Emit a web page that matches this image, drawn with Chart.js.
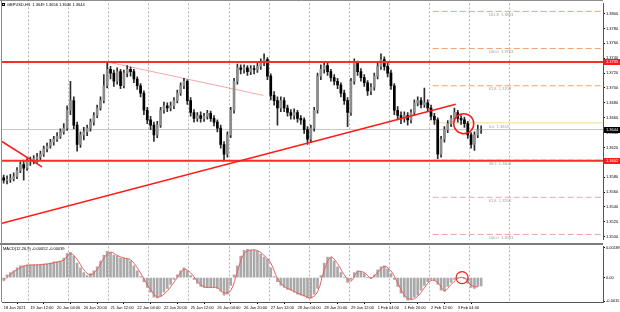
<!DOCTYPE html>
<html>
<head>
<meta charset="utf-8">
<script src="https://cdn.jsdelivr.net/npm/chart.js@4.4.0/dist/chart.umd.min.js"></script>
<style>
  body { margin: 0; background: #fff; }
  #wrap { position: relative; width: 620px; height: 312px; }
  #priceBox { position: absolute; left: 0; top: 0; width: 620px; height: 243px; }
  #macdBox { position: absolute; left: 0; top: 243px; width: 620px; height: 69px; }
</style>
</head>
<body>
<div id="wrap">
  <div id="priceBox"><canvas id="priceChart"></canvas></div>
  <div id="macdBox"><canvas id="macdChart"></canvas></div>
</div>
<script>
// GBPUSD, 2-hour candles (18 Jan 20:00 .. 3 Feb)
const opens = [1.3579,1.3576,1.3577,1.3578,1.3581,1.3589,1.3597,1.3592,1.3601,1.3602,
  1.3605,1.3607,1.3611,1.3618,1.3622,1.3627,1.3631,1.3635,1.3641,1.3646,
  1.3670,1.3683,1.3650,1.3624,1.3637,1.3641,1.3646,1.3654,1.3663,1.3673,
  1.3683,1.3703,1.3725,1.3720,1.3709,1.3722,1.3703,1.3720,1.3725,1.3722,
  1.3712,1.3703,1.3693,1.3670,1.3657,1.3650,1.3637,1.3650,1.3670,1.3676,
  1.3673,1.3676,1.3683,1.3693,1.3703,1.3709,1.3683,1.3667,1.3659,1.3663,
  1.3659,1.3662,1.3666,1.3659,1.3654,1.3646,1.3624,1.3611,1.3637,1.3670,
  1.3709,1.3727,1.3725,1.3727,1.3722,1.3726,1.3725,1.3729,1.3735,1.3738,
  1.3716,1.3690,1.3683,1.3673,1.3683,1.3673,1.3667,1.3663,1.3667,1.3659,
  1.3657,1.3644,1.3631,1.3646,1.3670,1.3716,1.3725,1.3730,1.3722,1.3714,
  1.3709,1.3704,1.3693,1.3683,1.3667,1.3709,1.3733,1.3722,1.3714,1.3707,
  1.3696,1.3701,1.3716,1.3729,1.3738,1.3729,1.3720,1.3703,1.3670,1.3663,
  1.3659,1.3663,1.3657,1.3667,1.3680,1.3683,1.3678,1.3680,1.3673,1.3662,
  1.3657,1.3611,1.3631,1.3644,1.3652,1.3659,1.3667,1.3659,1.3657,1.3652,
  1.3637,1.3624,1.3637,1.3644];
const highs = [1.3583,1.3582,1.3584,1.3586,1.3593,1.3601,1.3603,1.3605,1.3607,1.3609,
  1.3612,1.3615,1.3622,1.3626,1.3631,1.3635,1.3640,1.3645,1.3652,1.3676,
  1.3709,1.3688,1.3654,1.3641,1.3647,1.3650,1.3658,1.3667,1.3677,1.3688,
  1.3718,1.3735,1.3729,1.3724,1.3727,1.3725,1.3724,1.3730,1.3728,1.3725,
  1.3715,1.3706,1.3696,1.3674,1.3662,1.3654,1.3655,1.3674,1.3681,1.3680,
  1.3681,1.3687,1.3697,1.3707,1.3713,1.3711,1.3687,1.3671,1.3667,1.3668,
  1.3666,1.3670,1.3669,1.3663,1.3657,1.3650,1.3628,1.3641,1.3674,1.3713,
  1.3732,1.3731,1.3731,1.3730,1.3730,1.3730,1.3733,1.3739,1.3746,1.3741,
  1.3719,1.3695,1.3688,1.3688,1.3687,1.3677,1.3671,1.3672,1.3670,1.3663,
  1.3660,1.3648,1.3650,1.3674,1.3720,1.3731,1.3735,1.3733,1.3725,1.3718,
  1.3713,1.3707,1.3697,1.3687,1.3713,1.3739,1.3736,1.3726,1.3718,1.3710,
  1.3706,1.3720,1.3733,1.3746,1.3742,1.3733,1.3724,1.3706,1.3675,1.3668,
  1.3668,1.3667,1.3671,1.3684,1.3688,1.3687,1.3700,1.3684,1.3677,1.3666,
  1.3660,1.3635,1.3648,1.3656,1.3663,1.3673,1.3670,1.3663,1.3661,1.3655,
  1.3640,1.3641,1.3650,1.3649];
const lows = [1.3572,1.3571,1.3573,1.3575,1.3578,1.3586,1.3576,1.3589,1.3596,1.3598,
  1.3600,1.3603,1.3608,1.3614,1.3619,1.3623,1.3628,1.3632,1.3638,1.3643,
  1.3664,1.3645,1.3615,1.3620,1.3630,1.3636,1.3642,1.3650,1.3660,1.3670,
  1.3680,1.3700,1.3712,1.3702,1.3705,1.3699,1.3700,1.3715,1.3716,1.3707,
  1.3698,1.3688,1.3664,1.3652,1.3644,1.3628,1.3633,1.3647,1.3666,1.3668,
  1.3669,1.3672,1.3680,1.3690,1.3699,1.3678,1.3662,1.3654,1.3655,1.3654,
  1.3655,1.3658,1.3655,1.3649,1.3641,1.3619,1.3602,1.3607,1.3633,1.3666,
  1.3705,1.3719,1.3720,1.3717,1.3718,1.3719,1.3721,1.3725,1.3730,1.3711,
  1.3684,1.3677,1.3650,1.3668,1.3668,1.3662,1.3658,1.3658,1.3654,1.3651,
  1.3639,1.3624,1.3627,1.3642,1.3666,1.3711,1.3720,1.3717,1.3709,1.3704,
  1.3699,1.3688,1.3678,1.3648,1.3663,1.3705,1.3717,1.3709,1.3702,1.3690,
  1.3691,1.3697,1.3712,1.3725,1.3724,1.3715,1.3698,1.3664,1.3657,1.3652,
  1.3654,1.3650,1.3653,1.3663,1.3676,1.3673,1.3674,1.3668,1.3657,1.3651,
  1.3605,1.3607,1.3627,1.3640,1.3648,1.3655,1.3654,1.3651,1.3647,1.3632,
  1.3619,1.3616,1.3633,1.3639];
const closes = [1.3576,1.3577,1.3578,1.3581,1.3589,1.3597,1.3592,1.3601,1.3602,1.3605,
  1.3607,1.3611,1.3618,1.3622,1.3627,1.3631,1.3635,1.3641,1.3646,1.3670,
  1.3683,1.3650,1.3624,1.3637,1.3641,1.3646,1.3654,1.3663,1.3673,1.3683,
  1.3703,1.3725,1.3720,1.3709,1.3722,1.3703,1.3720,1.3725,1.3722,1.3712,
  1.3703,1.3693,1.3670,1.3657,1.3650,1.3637,1.3650,1.3670,1.3676,1.3673,
  1.3676,1.3683,1.3693,1.3703,1.3709,1.3683,1.3667,1.3659,1.3663,1.3659,
  1.3662,1.3666,1.3659,1.3654,1.3646,1.3624,1.3611,1.3637,1.3670,1.3709,
  1.3727,1.3725,1.3727,1.3722,1.3726,1.3725,1.3729,1.3735,1.3738,1.3716,
  1.3690,1.3683,1.3673,1.3683,1.3673,1.3667,1.3663,1.3667,1.3659,1.3657,
  1.3644,1.3631,1.3646,1.3670,1.3716,1.3725,1.3730,1.3722,1.3714,1.3709,
  1.3704,1.3693,1.3683,1.3667,1.3709,1.3733,1.3722,1.3714,1.3707,1.3696,
  1.3701,1.3716,1.3729,1.3738,1.3729,1.3720,1.3703,1.3670,1.3663,1.3659,
  1.3663,1.3657,1.3667,1.3680,1.3683,1.3678,1.3680,1.3673,1.3662,1.3657,
  1.3611,1.3631,1.3644,1.3652,1.3659,1.3667,1.3659,1.3657,1.3652,1.3637,
  1.3624,1.3637,1.3644,1.3644];

// MACD(12,26,9): main histogram per candle, signal every second candle
const macdMain = [-0.00018,0.00018,0.00031,0.00043,0.00062,0.00074,0.00074,0.00080,0.00080,0.00080,
  0.00080,0.00083,0.00086,0.00086,0.00092,0.00099,0.00099,0.00105,0.00123,0.00154,
  0.00160,0.00136,0.00092,0.00062,0.00031,0.00012,0.00025,0.00043,0.00068,0.00105,
  0.00142,0.00166,0.00160,0.00142,0.00136,0.00123,0.00123,0.00117,0.00105,0.00074,
  0.00043,0.00006,-0.00025,-0.00062,-0.00092,-0.00123,-0.00129,-0.00117,-0.00092,-0.00068,
  -0.00043,-0.00012,0.00018,0.00043,0.00062,0.00043,0.00012,-0.00012,-0.00037,-0.00055,
  -0.00062,-0.00062,-0.00062,-0.00062,-0.00068,-0.00086,-0.00111,-0.00105,-0.00049,0.00018,
  0.00074,0.00136,0.00172,0.00179,0.00172,0.00172,0.00166,0.00148,0.00129,0.00117,
  0.00062,0.00006,-0.00025,-0.00049,-0.00062,-0.00074,-0.00080,-0.00092,-0.00105,-0.00111,
  -0.00117,-0.00129,-0.00129,-0.00105,-0.00068,0.00012,0.00092,0.00129,0.00129,0.00105,
  0.00068,0.00031,0.00000,-0.00031,-0.00012,0.00031,0.00043,0.00037,0.00025,0.00000,
  -0.00006,0.00018,0.00049,0.00068,0.00074,0.00055,0.00025,-0.00012,-0.00055,-0.00099,
  -0.00123,-0.00142,-0.00136,-0.00123,-0.00111,-0.00080,-0.00049,-0.00025,-0.00012,-0.00018,
  -0.00043,-0.00080,-0.00086,-0.00055,-0.00031,-0.00012,0.00000,0.00000,-0.00006,-0.00037,
  -0.00062,-0.00068,-0.00055,-0.00052];
const macdSignal = [-0.00020,0.00020,0.00050,0.00072,0.00079,0.00080,0.00084,0.00089,0.00098,0.00112,
  0.00150,0.00115,0.00050,0.00018,0.00052,0.00122,0.00160,0.00140,0.00124,0.00112,
  0.00062,-0.00008,-0.00075,-0.00122,-0.00105,-0.00058,0.00000,0.00052,0.00030,-0.00022,
  -0.00058,-0.00062,-0.00064,-0.00096,-0.00082,0.00040,0.00150,0.00174,0.00170,0.00140,
  0.00092,-0.00005,-0.00055,-0.00077,-0.00098,-0.00114,-0.00128,-0.00090,0.00045,0.00128,
  0.00088,0.00018,-0.00022,0.00036,0.00032,-0.00002,0.00032,0.00070,0.00042,-0.00032,
  -0.00110,-0.00138,-0.00118,-0.00065,-0.00018,-0.00030,-0.00082,-0.00044,-0.00006,-0.00002,
  -0.00048,-0.00060];
const signalStep = 2;

// time axis: one label every 8 candles (16 hours)
const timeLabels = ['18 Jan 2021','19 Jan 12:00','20 Jan 04:00','20 Jan 20:00','21 Jan 12:00',
  '22 Jan 04:00','22 Jan 20:00','25 Jan 12:00','26 Jan 04:00','26 Jan 20:00','27 Jan 12:00',
  '28 Jan 04:00','28 Jan 20:00','29 Jan 12:00','1 Feb 04:00','1 Feb 20:00','2 Feb 12:00','3 Feb 04:00'];
const labelStep = 8;
const gridStart = 1.5, gridStep = 12, gridCount = 13;

const priceTicks = [1.3500,1.3520,1.3540,1.3560,1.3580,1.3600,1.3620,1.3640,1.3660,1.3680,
  1.3700,1.3720,1.3740,1.3760,1.3780,1.3800];
const macdTicks = [-0.0015, 0, 0.00189];
const macdTickLabels = ['-0.0015', '0.00', '0.00189'];

// drawn levels
const resistanceLevel = 1.3735;
const supportLevel = 1.3602;
const trendUp = [[-0.5, 1.3518], [135.4, 1.3678]];
const trendShort = [[-0.5, 1.3628], [11.5, 1.3594]];
const trendPink = [[31.0, 1.3735], [77.8, 1.3690]];
const fibLevels = [1.3803, 1.3753, 1.3703, 1.3653, 1.3603, 1.3553, 1.3503];
const fibNames = ['161.8', '100.0', '61.8', '0.0', '38.2', '61.8', '100.0'];
const fibColors = ['#f2a36a', '#f2a36a', '#f2a36a', '#efe08a', '#eeaaaa', '#eaa6a6', '#eaa6a6'];
const fibFrom = 128.5, fibTo = 179.5, fibLabelAt = 145.3;
const circleMain = { x: 137.8, y: 1.3652 };
const circleMacd = { x: 137.3, y: 0.0 };

const headerText = 'GBPUSD,H1  1.3649 1.3656 1.3640 1.3644';
const macdHeader = 'MACD(12,26,9) -0.00052 -0.00039';

const slotCount = 180;
const xMin = -0.5, xMax = slotCount - 0.5;
const lastIdx = closes.length - 1;
const slots = Array.from({ length: slotCount }, (_, i) => i);
const fontFamily = '"Liberation Sans", Arial, sans-serif';

Chart.defaults.font.family = fontFamily;
Chart.defaults.font.size = 4;
Chart.defaults.color = '#000';

function segment(points, color, width, dash, order) {
    return {
        type: 'line',
        data: points.map(p => ({ x: p[0], y: p[1] })),
        borderColor: color,
        borderWidth: width,
        borderDash: dash || [],
        pointRadius: 0,
        fill: false,
        order: order
    };
}

function gridAxis() {
    return {
        type: 'linear', min: xMin, max: xMax, offset: false, position: 'bottom',
        afterBuildTicks: s => { s.ticks = Array.from({ length: gridCount }, (_, k) => ({ value: gridStart + k * gridStep })); },
        afterFit: s => { s.height = 0; },
        ticks: { display: false },
        grid: { color: '#b4b4b4', lineWidth: 1, drawTicks: false },
        border: { display: false, dash: [2, 2] }
    };
}

const isBull = i => closes[i] >= opens[i];

// ---- price chart ----
const priceDatasets = [
    segment([[xMin, closes[lastIdx]], [xMax, closes[lastIdx]]], '#c4c4c4', 1, [], 9),
    ...fibLevels.map((lv, i) => segment([[fibFrom, lv], [fibTo, lv]], fibColors[i], 1, i === 3 ? [] : [6, 3], 8)),
    segment(trendPink, 'rgba(240,110,110,0.6)', 1, [], 7),
    {
        type: 'bar', data: highs.map((h, i) => [lows[i], h]),
        backgroundColor: '#2c2c2c', barThickness: 1, grouped: false, order: 6
    },
    {
        type: 'bar', data: opens.map((o, i) => [o, closes[i]]),
        backgroundColor: ctx => isBull(ctx.dataIndex) ? '#8c8c8c' : '#000',
        barThickness: 2, grouped: false, order: 5
    },
    segment([[xMin, resistanceLevel], [xMax, resistanceLevel]], '#ff2a2a', 2, [], 4),
    segment([[xMin, supportLevel], [xMax, supportLevel]], '#ff2a2a', 2, [], 4),
    segment(trendUp, '#ff1a1a', 1.5, [], 3),
    segment(trendShort, '#ff1a1a', 1.5, [], 3),
    {
        type: 'line', data: [circleMain], showLine: false, pointRadius: 10,
        pointBorderColor: '#ff1a1a', pointBorderWidth: 1.5, pointBackgroundColor: 'rgba(0,0,0,0)', order: 1
    }
];

const priceDecor = {
    id: 'priceDecor',
    afterDraw(chart) {
        const ctx = chart.ctx, xs = chart.scales.x, ys = chart.scales.y, area = chart.chartArea;
        ctx.save();
        ctx.strokeStyle = '#8c8c8c';
        ctx.lineWidth = 1;
        ctx.beginPath();
        ctx.moveTo(0, 0.5); ctx.lineTo(area.right, 0.5);
        ctx.moveTo(1.5, 0); ctx.lineTo(1.5, chart.height);
        ctx.stroke();

        ctx.font = '4px ' + fontFamily;
        ctx.textBaseline = 'top';
        ctx.fillStyle = '#000';
        ctx.fillText(headerText, 7, 3);
        ctx.strokeStyle = '#000';
        ctx.strokeRect(2.5, 3.5, 2, 2);

        ctx.fillStyle = '#9a9a9a';
        fibLevels.forEach((lv, i) => {
            ctx.fillText(fibNames[i] + '  ' + lv.toFixed(4), xs.getPixelForValue(fibLabelAt), ys.getPixelForValue(lv) + 1.5);
        });

        function tag(val, bg) {
            const py = Math.round(ys.getPixelForValue(val));
            ctx.fillStyle = bg;
            ctx.fillRect(area.right + 1, py - 3, 16, 6);
            ctx.fillStyle = '#fff';
            ctx.textBaseline = 'middle';
            ctx.fillText(val.toFixed(4), area.right + 3, py);
        }
        tag(resistanceLevel, '#ff1a1a');
        tag(supportLevel, '#ff1a1a');
        tag(closes[lastIdx], '#000');
        ctx.restore();
    }
};

new Chart(document.getElementById('priceChart'), {
    type: 'bar',
    data: { labels: slots, datasets: priceDatasets },
    options: {
        responsive: true, maintainAspectRatio: false, animation: false, devicePixelRatio: 1,
        layout: { autoPadding: false, padding: { left: 2, right: 0, top: 0, bottom: 0 } },
        plugins: { legend: { display: false }, tooltip: { enabled: false } },
        scales: {
            x: { type: 'linear', min: xMin, max: xMax, offset: false, display: false },
            xg: gridAxis(),
            y: {
                position: 'right', min: 1.34961, max: 1.38137, beginAtZero: false,
                afterBuildTicks: s => { s.ticks = priceTicks.map(v => ({ value: v })); },
                afterFit: s => { s.width = 17; },
                ticks: { callback: v => v.toFixed(4), padding: 1, autoSkip: false, font: { size: 4 } },
                grid: { drawOnChartArea: false, tickLength: 2, color: '#000' },
                border: { color: '#555' }
            }
        }
    },
    plugins: [priceDecor]
});

// ---- MACD chart ----
const macdDecor = {
    id: 'macdDecor',
    afterDraw(chart) {
        const ctx = chart.ctx, area = chart.chartArea;
        ctx.save();
        ctx.fillStyle = '#7c7c7c';
        ctx.fillRect(0, 0, area.right, 2);
        ctx.strokeStyle = '#8c8c8c';
        ctx.lineWidth = 1;
        ctx.beginPath();
        ctx.moveTo(1.5, 0); ctx.lineTo(1.5, area.bottom);
        ctx.stroke();
        ctx.font = '4px ' + fontFamily;
        ctx.fillStyle = '#000';
        ctx.textBaseline = 'top';
        ctx.fillText(macdHeader, 3, 4);
        ctx.restore();
    }
};

new Chart(document.getElementById('macdChart'), {
    type: 'bar',
    data: {
        labels: slots,
        datasets: [
            {
                type: 'bar', data: macdMain, backgroundColor: '#a9a9a9',
                barThickness: 2, grouped: false, order: 3
            },
            {
                type: 'line', data: macdSignal.map((v, k) => ({ x: k * signalStep, y: v })),
                borderColor: '#f25a5a', borderWidth: 1, pointRadius: 0, tension: 0.4, order: 2
            },
            {
                type: 'line', data: [circleMacd], showLine: false, pointRadius: 6,
                pointBorderColor: '#ff1a1a', pointBorderWidth: 1.2, pointBackgroundColor: 'rgba(0,0,0,0)', order: 1
            }
        ]
    },
    options: {
        responsive: true, maintainAspectRatio: false, animation: false, devicePixelRatio: 1,
        layout: { autoPadding: false, padding: { left: 2, right: 0, top: 2, bottom: 0 } },
        plugins: { legend: { display: false }, tooltip: { enabled: false } },
        scales: {
            x: {
                type: 'linear', min: xMin, max: xMax, offset: false, position: 'bottom',
                afterBuildTicks: s => { s.ticks = timeLabels.map((_, k) => ({ value: k * labelStep })); },
                afterFit: s => { s.height = 10; },
                ticks: { callback: (v, i) => timeLabels[i], align: 'start', autoSkip: false, maxRotation: 0, padding: 1, font: { size: 4 } },
                grid: { drawOnChartArea: false, tickLength: 2, color: '#000' },
                border: { color: '#555' }
            },
            xg: gridAxis(),
            y: {
                position: 'right', min: -0.00154, max: 0.00197, beginAtZero: false,
                afterBuildTicks: s => { s.ticks = macdTicks.map(v => ({ value: v })); },
                afterFit: s => { s.width = 17; },
                ticks: { callback: (v, i) => macdTickLabels[i], padding: 1, autoSkip: false, font: { size: 4 } },
                grid: { drawOnChartArea: false, tickLength: 2, color: '#000' },
                border: { color: '#555' }
            }
        }
    },
    plugins: [macdDecor]
});
</script>
</body>
</html>
